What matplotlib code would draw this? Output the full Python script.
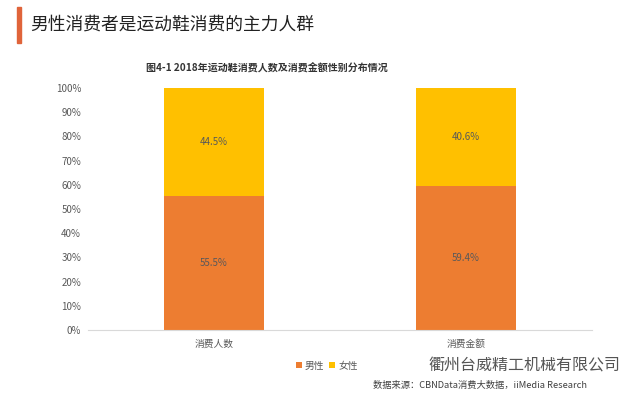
import matplotlib
matplotlib.use('Agg')
import matplotlib.pyplot as plt
import numpy as np

plt.rcParams['font.family'] = ['Noto Sans CJK SC', 'DejaVu Sans']

# data
categories = ['消费人数', '消费金额']
male = [55.5, 59.4]
female = [44.5, 40.6]
series_names = ['男性', '女性']
colors = ['#ED7D31', '#FFC000']

fig = plt.figure(figsize=(6.4, 3.99), dpi=100)
ax = fig.add_axes([0.1375, 0.1729, 0.7875, 0.6065])

x = np.arange(len(categories))
b1 = ax.bar(x, male, width=0.4, color=colors[0], label=series_names[0])
b2 = ax.bar(x, female, width=0.4, bottom=male, color=colors[1], label=series_names[1])

for rect, v in zip(b1, male):
    ax.text(rect.get_x() + rect.get_width() / 2, rect.get_height() / 2, f'{v}%',
            ha='center', va='center', fontsize=7, color='#595959')
for rect, v, m in zip(b2, female, male):
    ax.text(rect.get_x() + rect.get_width() / 2, m + v / 2, f'{v}%',
            ha='center', va='center', fontsize=7, color='#595959')

ax.set_xlim(-0.5, 1.5)
ax.set_ylim(0, 100)
ax.set_yticks(np.arange(0, 101, 10))
ax.set_yticklabels([f'{t}%' for t in range(0, 101, 10)])
ax.set_xticks(x)
ax.set_xticklabels(categories)
ax.tick_params(axis='both', length=0, labelsize=7, colors='#595959')
ax.tick_params(axis='y', pad=5)
ax.tick_params(axis='x', pad=6)
for s in ['top', 'right', 'left']:
    ax.spines[s].set_visible(False)
ax.spines['bottom'].set_color('#D9D9D9')

ax.legend(loc='upper center', bbox_to_anchor=(0.474, -0.09), ncol=2, frameon=False,
          fontsize=7, handlelength=0.6, handleheight=0.6, columnspacing=0.5,
          handletextpad=0.3, labelcolor='#595959')

# headline with accent bar
fig.patches.append(matplotlib.patches.Rectangle((17 / 640, 1 - 43 / 399), 4 / 640, 36 / 399,
                                                transform=fig.transFigure, color='#E0643A'))
fig.text(30 / 640, 1 - 25 / 399, '男性消费者是运动鞋消费的主力人群', fontsize=12.8,
         ha='left', va='center', color='#222222')
fig.text(267 / 640, 1 - 67 / 399, '图4-1 2018年运动鞋消费人数及消费金额性别分布情况',
         fontsize=7.2, fontweight='bold', ha='center', va='center', color='#333333')

# watermark and source
fig.text(620 / 640, 1 - 366 / 399, '衢州台威精工机械有限公司', fontsize=11.5,
         ha='right', va='center', color='#555555')
fig.text(587 / 640, 1 - 385 / 399, '数据来源：CBNData消费大数据，iiMedia Research',
         fontsize=6.7, ha='right', va='center', color='#404040')

fig.savefig('out.png', dpi=100)
